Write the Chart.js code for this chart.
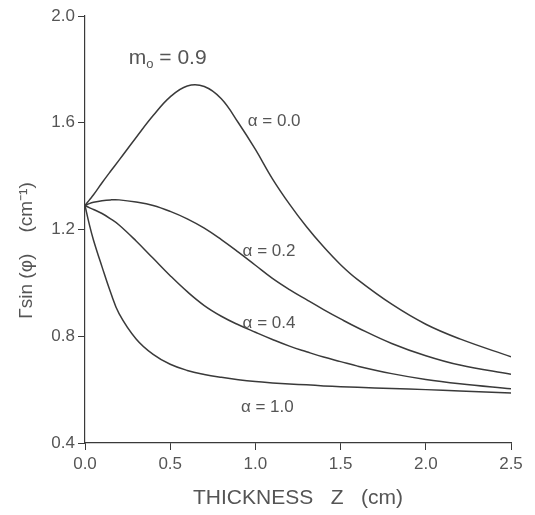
<!DOCTYPE html>
<html>
<head>
<meta charset="utf-8">
<script src="https://cdn.jsdelivr.net/npm/chart.js@4.4.0/dist/chart.umd.min.js"></script>
<style>
  html, body { margin: 0; padding: 0; background: #fff; }
  #wrap { width: 535px; height: 515px; }
</style>
</head>
<body>
<div id="wrap"><canvas id="chart" width="535" height="515"></canvas></div>
<script>
// ============================================
// Data
// ============================================

// thickness Z (cm)
const zValues = [0, 0.025, 0.05, 0.1, 0.15, 0.2, 0.3, 0.4, 0.5, 0.6, 0.7, 0.8, 0.9, 1.0, 1.1, 1.2, 1.3, 1.4, 1.5, 1.6, 1.8, 2.0, 2.2, 2.5];

// Gamma sin(phi) (cm^-1), one array per alpha
const alpha00 = [1.29, 1.31, 1.33, 1.375, 1.418, 1.46, 1.545, 1.627, 1.697, 1.738, 1.736, 1.69, 1.60, 1.50, 1.39, 1.295, 1.21, 1.135, 1.068, 1.012, 0.92, 0.845, 0.79, 0.723];
const alpha02 = [1.29, 1.297, 1.302, 1.308, 1.311, 1.311, 1.303, 1.29, 1.268, 1.24, 1.205, 1.162, 1.115, 1.066, 1.017, 0.975, 0.937, 0.90, 0.865, 0.832, 0.773, 0.727, 0.692, 0.658];
const alpha04 = [1.29, 1.282, 1.275, 1.26, 1.24, 1.217, 1.157, 1.092, 1.027, 0.967, 0.915, 0.875, 0.843, 0.815, 0.788, 0.763, 0.742, 0.722, 0.705, 0.688, 0.66, 0.638, 0.622, 0.603];
const alpha10 = [1.29, 1.22, 1.16, 1.06, 0.965, 0.885, 0.79, 0.732, 0.695, 0.672, 0.657, 0.646, 0.637, 0.630, 0.625, 0.621, 0.618, 0.614, 0.611, 0.609, 0.604, 0.600, 0.595, 0.587];

const seriesNames = ['α = 0.0', 'α = 0.2', 'α = 0.4', 'α = 1.0'];
const seriesValues = [alpha00, alpha02, alpha04, alpha10];

// tick labels
const xTicks = [0, 0.5, 1.0, 1.5, 2.0, 2.5];
const yTicks = [0.4, 0.8, 1.2, 1.6, 2.0];

// where each curve label sits (data units)
const labelZ = [1.11, 1.08, 1.08, 1.07];
const labelG = [1.607, 1.12, 0.85, 0.535];

// ============================================
// Styles
// ============================================

const LINE_COLOR = '#3a3a3a';
const TEXT_COLOR = '#555';
const FONT = '"Liberation Sans", Arial, sans-serif';

// ============================================
// Plugin: curve labels, m0 note, y title
// ============================================

const textPlugin = {
  id: 'textPlugin',
  afterDraw(chart) {
    const { ctx, scales: { x, y }, chartArea } = chart;
    ctx.save();
    ctx.fillStyle = TEXT_COLOR;
    ctx.textBaseline = 'middle';
    ctx.textAlign = 'center';

    // curve labels
    ctx.font = '17px ' + FONT;
    seriesNames.forEach((name, i) => {
      ctx.fillText(name, x.getPixelForValue(labelZ[i]), y.getPixelForValue(labelG[i]));
    });

    // m0 = 0.9
    const mx = x.getPixelForValue(0.485);
    const my = y.getPixelForValue(1.843);
    ctx.textAlign = 'left';
    ctx.font = '21px ' + FONT;
    const mW = ctx.measureText('m').width;
    ctx.font = '13px ' + FONT;
    const subW = ctx.measureText('o').width;
    ctx.font = '21px ' + FONT;
    const restW = ctx.measureText(' = 0.9').width;
    let cx = mx - (mW + subW + restW) / 2;
    ctx.fillText('m', cx, my);
    cx += mW;
    ctx.font = '13px ' + FONT;
    ctx.fillText('o', cx, my + 7);
    cx += subW;
    ctx.font = '21px ' + FONT;
    ctx.fillText(' = 0.9', cx, my);

    // y axis title
    ctx.translate(27, (chartArea.top + chartArea.bottom) / 2 + 21);
    ctx.rotate(-Math.PI / 2);
    ctx.textAlign = 'center';
    ctx.font = '19px ' + FONT;
    ctx.fillText('Γsin (φ)    (cm⁻¹)', 0, 0);
    ctx.restore();
  }
};

// ============================================
// Chart
// ============================================

const datasets = seriesValues.map((vals, i) => ({
  label: seriesNames[i],
  data: zValues.map((z, k) => ({ x: z, y: vals[k] })),
  borderColor: LINE_COLOR,
  borderWidth: 1.5,
  pointRadius: 0,
  fill: false,
  tension: 0.4
}));

new Chart(document.getElementById('chart'), {
  type: 'line',
  data: { datasets },
  options: {
    responsive: false,
    animation: false,
    devicePixelRatio: 1,
    layout: { padding: { top: 16, right: 24, left: 0, bottom: 0 } },
    plugins: {
      legend: { display: false },
      tooltip: { enabled: false }
    },
    scales: {
      x: {
        type: 'linear',
        min: 0,
        max: 2.5,
        afterBuildTicks: (scale) => { scale.ticks = xTicks.map(v => ({ value: v })); },
        afterFit: (scale) => { scale.height = 72; },
        ticks: {
          color: TEXT_COLOR,
          font: { family: FONT, size: 17 },
          padding: 4,
          maxRotation: 0,
          callback: (v) => v.toFixed(1)
        },
        grid: { drawOnChartArea: false, drawTicks: true, tickLength: 7, color: LINE_COLOR },
        border: { display: true, color: LINE_COLOR, width: 1.2 },
        title: {
          display: true,
          text: 'THICKNESS   Z   (cm)',
          color: TEXT_COLOR,
          font: { family: FONT, size: 21 },
          padding: { top: 0, bottom: 4 }
        }
      },
      y: {
        type: 'linear',
        min: 0.4,
        max: 2.0,
        afterBuildTicks: (scale) => { scale.ticks = yTicks.map(v => ({ value: v })); },
        afterFit: (scale) => { scale.width = 85; },
        ticks: {
          color: TEXT_COLOR,
          font: { family: FONT, size: 17 },
          padding: 3,
          callback: (v) => v.toFixed(1)
        },
        grid: { drawOnChartArea: false, drawTicks: true, tickLength: 7, color: LINE_COLOR },
        border: { display: true, color: LINE_COLOR, width: 1.2 }
      }
    }
  },
  plugins: [textPlugin]
});
</script>
</body>
</html>
